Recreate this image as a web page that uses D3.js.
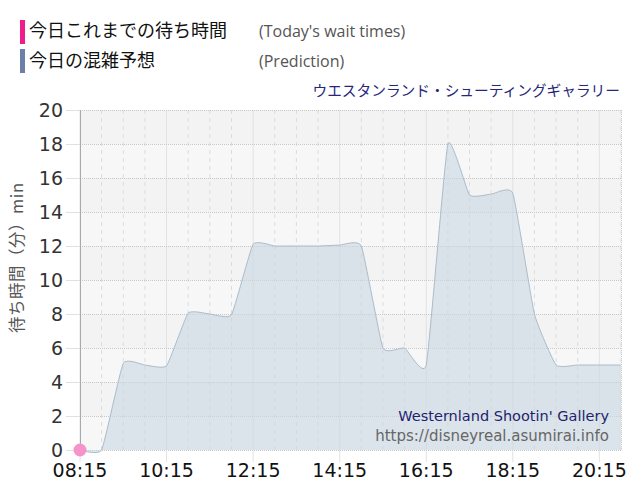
<!DOCTYPE html>
<html><head><meta charset="utf-8">
<script src="https://cdn.jsdelivr.net/npm/d3@7/dist/d3.min.js"></script>
<style>body{margin:0;background:#fff}svg{display:block}</style>
</head><body>
<svg id="c" width="640" height="500"></svg>
<script>
const times = ["08:15","08:45","09:15","09:45","10:15","10:45","11:15","11:45","12:15","12:45","13:15","13:45","14:15","14:45","15:15","15:45","16:15","16:45","17:15","17:45","18:15","18:45","19:15","19:45","20:15","20:45"];
const prediction = [0,0,5.1,5,4.95,8.05,8,7.95,12.1,12,12,12,12.05,12,6,6,5,18,15,15.05,15.1,8,5,5,5,5];
const actualTimes = ["08:15"];
const actual = [0];
const xTicks = ["08:15","10:15","12:15","14:15","16:15","18:15","20:15"];
const yTicks = [0,2,4,6,8,10,12,14,16,18,20];

const parse = s => { const [h,m]=s.split(":").map(Number); return h*60+m; };
const svg = d3.select("#c");
const L=80, R=621, T=110, B=450;
const x = d3.scaleLinear().domain([parse("08:15"), parse("20:45")]).range([L,R]);
const y = d3.scaleLinear().domain([0,20]).range([B,T]);

// background bands
const g = svg.append("g");
for (let i=0;i<10;i++){
  g.append("rect").attr("x",L).attr("width",R-L)
   .attr("y",y(20-2*i)).attr("height",y(18-2*i)-y(20-2*i))
   .attr("fill", i%2===0 ? "#f3f3f3" : "#f7f7f7");
}
// vertical grid every 30 min
const vg = d3.range(parse("08:15"), parse("20:45")+1, 30);
g.selectAll("line.vg").data(vg).join("line")
  .attr("x1",d=>x(d)).attr("x2",d=>x(d)).attr("y1",T).attr("y2",B)
  .attr("stroke",d=> ((d-parse("08:15"))%120===0) ? "#e2e2e2" : "#dcdcdc")
  .attr("stroke-dasharray",d=> ((d-parse("08:15"))%120===0) ? null : "4,4")
  .attr("stroke-width",1);
// horizontal grid
g.selectAll("line.hg").data(yTicks).join("line")
  .attr("x1",L).attr("x2",R).attr("y1",d=>y(d)+0.5).attr("y2",d=>y(d)+0.5)
  .attr("stroke","#c8c8c8").attr("stroke-dasharray","1,1");
g.selectAll("line.ht").data(yTicks).join("line")
  .attr("x1",66).attr("x2",L).attr("y1",d=>y(d)+0.5).attr("y2",d=>y(d)+0.5)
  .attr("stroke","#e0e0e0");
// right border
g.append("line").attr("x1",R+0.5).attr("x2",R+0.5).attr("y1",T).attr("y2",B)
  .attr("stroke","#cfcfcf").attr("stroke-dasharray","1,1");

// area
const pts = times.map((t,i)=>({t:parse(t), v:prediction[i]}));
const curve = d3.curveCardinal.tension(0.6);
svg.append("path").datum(pts)
  .attr("d", d3.area().x(d=>x(d.t)).y0(y(0)).y1(d=>y(d.v)).curve(curve))
  .attr("fill","#c9d7e3").attr("fill-opacity",0.6);
svg.append("path").datum(pts)
  .attr("d", d3.line().x(d=>x(d.t)).y(d=>y(d.v)).curve(curve))
  .attr("fill","none").attr("stroke","#a9bccb").attr("stroke-width",1);

// x tick marks
svg.selectAll("line.xt").data(xTicks).join("line")
  .attr("x1",d=>x(parse(d))).attr("x2",d=>x(parse(d))).attr("y1",B).attr("y2",B+12)
  .attr("stroke","#e2e2e2");
// y axis line
svg.append("line").attr("x1",L+0.5).attr("x2",L+0.5).attr("y1",T).attr("y2",B)
  .attr("stroke","#a8a8b0");

// y labels
svg.selectAll("text.yl").data(yTicks).join("text")
  .attr("x",63).attr("y",d=>y(d)+7).attr("text-anchor","end")
  .attr("font-family","DejaVu Sans, Verdana, sans-serif").attr("font-size",19)
  .attr("fill","#333").text(d=>d);
// x labels
svg.selectAll("text.xl").data(xTicks).join("text")
  .attr("x",d=>x(parse(d))).attr("y",477).attr("text-anchor","middle")
  .attr("font-family","DejaVu Sans, Verdana, sans-serif").attr("font-size",19)
  .attr("fill","#111").text(d=>d);

// y axis title
svg.append("text").attr("transform","translate(23,258) rotate(-90)")
  .attr("text-anchor","middle").attr("font-family","Noto Sans CJK JP, sans-serif")
  .attr("font-size",16.5).attr("fill","#555")
  .attr("textLength",150).attr("lengthAdjust","spacing").text("待ち時間（分）min");

// actual points
svg.selectAll("circle.a").data(actualTimes.map((t,i)=>({t:parse(t),v:actual[i]}))).join("circle")
  .attr("cx",d=>x(d.t)).attr("cy",d=>y(d.v)).attr("r",6.5)
  .attr("fill","#f594cb");

// legend
svg.append("rect").attr("x",20).attr("y",20).attr("width",5).attr("height",24).attr("fill","#ee1c8c");
svg.append("rect").attr("x",20).attr("y",49).attr("width",5).attr("height",24).attr("fill","#6b7fa8");
svg.append("text").attr("x",29).attr("y",37).attr("font-family","Noto Sans CJK JP, sans-serif")
  .attr("font-size",18).attr("fill","#111").text("今日これまでの待ち時間");
svg.append("text").attr("x",29).attr("y",67).attr("font-family","Noto Sans CJK JP, sans-serif")
  .attr("font-size",18).attr("fill","#111").text("今日の混雑予想");
svg.append("text").attr("x",259).attr("y",37).attr("font-family","Open Sans, Noto Sans, sans-serif")
  .attr("font-size",16).attr("fill","#555").text("(Today's wait times)");
svg.append("text").attr("x",259).attr("y",67).attr("font-family","Open Sans, Noto Sans, sans-serif")
  .attr("font-size",16).attr("fill","#555").text("(Prediction)");
// title
svg.append("text").attr("x",620).attr("y",96).attr("text-anchor","end")
  .attr("font-family","Noto Sans CJK JP, sans-serif").attr("font-size",14.7)
  .attr("fill","#27277a").text("ウエスタンランド・シューティングギャラリー");
// watermark
svg.append("text").attr("x",609).attr("y",421).attr("text-anchor","end")
  .attr("font-family","DejaVu Sans, Verdana, sans-serif").attr("font-size",14.5)
  .attr("fill","#1f1f6e").text("Westernland Shootin' Gallery");
svg.append("text").attr("x",609).attr("y",441).attr("text-anchor","end")
  .attr("font-family","DejaVu Sans, Verdana, sans-serif").attr("font-size",15)
  .attr("fill","#666").text("https://disneyreal.asumirai.info");
</script>
</body></html>
